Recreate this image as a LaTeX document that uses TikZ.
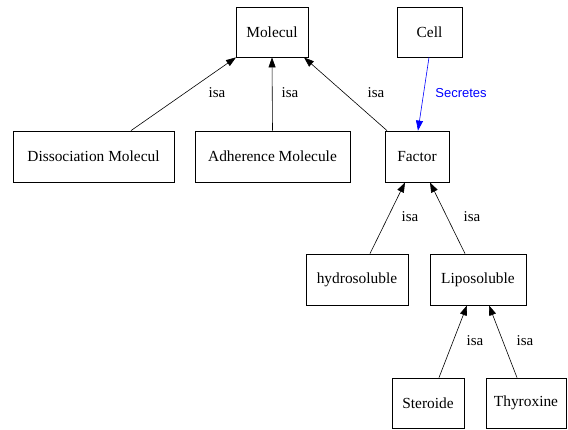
\documentclass[tikz,border=0pt]{standalone}
\usepackage{fontspec}
\setmainfont{Liberation Serif}
\newfontfamily\lblsans{Liberation Sans}
\usetikzlibrary{arrows.meta}
\begin{document}
\begin{tikzpicture}[x=1pt,y=-1pt,
  box/.style={draw,line width=0.8pt,inner sep=0pt,font=\fontsize{15.4}{17}\selectfont},
  edge/.style={line width=0.6pt,-{Triangle[length=10pt,width=7pt]}},
  lbl/.style={font=\fontsize{15}{17}\selectfont,inner sep=0pt}]
\useasboundingbox[fill=white] (0,0) rectangle (568,429);
\node[box,minimum width=72pt,minimum height=50pt] (mol) at (272,32) {Molecul};
\node[box,minimum width=65pt,minimum height=50pt] (cell) at (429.5,32) {Cell};
\node[box,minimum width=161pt,minimum height=51pt] (dis) at (93.5,156.5) {Dissociation Molecul};
\node[box,minimum width=155pt,minimum height=51pt] (adh) at (272.5,156.5) {Adherence Molecule};
\node[box,minimum width=64pt,minimum height=51pt] (fac) at (417,156.5) {Factor};
\node[box,minimum width=102pt,minimum height=51pt] (hyd) at (357,279.5) {hydrosoluble};
\node[box,minimum width=96pt,minimum height=51pt] (lip) at (478,279.5) {Liposoluble};
\node[box,minimum width=72pt,minimum height=50pt] (ste) at (428,403) {Steroide};
\node[box,minimum width=80pt,minimum height=50pt] (thy) at (526,403) {Thyroxine};
\draw[edge] ([xshift=37.5pt]dis.north) -- ([xshift=-36pt]mol.south);
\draw[edge] (adh.north) -- (mol.south);
\draw[edge] ([xshift=-30pt]fac.north) -- ([xshift=32pt]mol.south);
\draw[edge,blue] ([xshift=-0.5pt]cell.south) -- ([xshift=1pt]fac.north);
\draw[edge] ([xshift=13pt]hyd.north) -- ([xshift=-12pt]fac.south);
\draw[edge] ([xshift=-13pt]lip.north) -- ([xshift=13pt]fac.south);
\draw[edge] ([xshift=11pt]ste.north) -- ([xshift=-11pt]lip.south);
\draw[edge] ([xshift=-9pt]thy.north) -- ([xshift=11pt]lip.south);
\node[lbl] (l1) at (217,93) {isa};
\node[lbl] (l2) at (290,93) {isa};
\node[lbl] (l3) at (376,93) {isa};
\node[lbl,blue,font=\lblsans\fontsize{13}{15}\selectfont] (l4) at (461,93) {Secretes};
\node[lbl] (l5) at (410,217) {isa};
\node[lbl] (l6) at (472,217) {isa};
\node[lbl] (l7) at (475,341) {isa};
\node[lbl] (l8) at (525,341) {isa};
\end{tikzpicture}
\end{document}
